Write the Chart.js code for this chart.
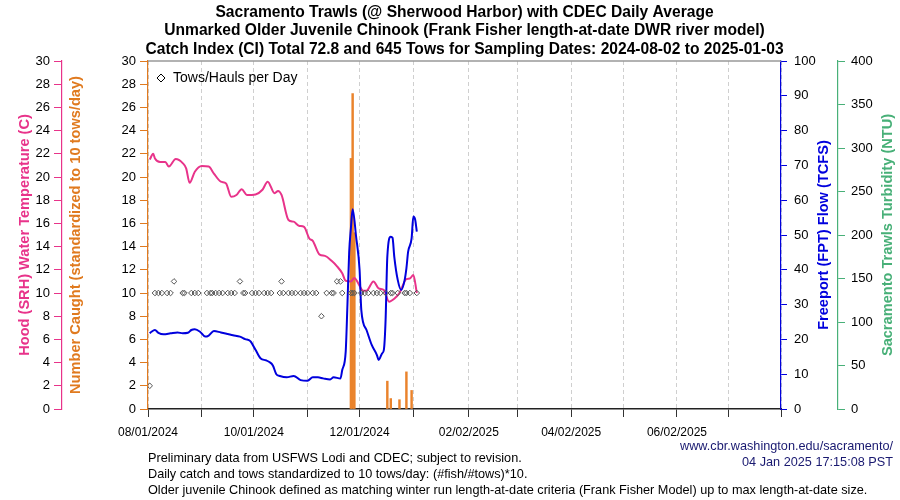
<!DOCTYPE html>
<html>
<head>
<meta charset="utf-8">
<script src="https://cdn.jsdelivr.net/npm/chart.js@4.4.1/dist/chart.umd.min.js"></script>
<style>
  html, body { margin: 0; padding: 0; background: #fff; }
</style>
</head>
<body>
<canvas id="chart" width="900" height="500"></canvas>
<script>
// days counted from 08/01/2024
const tickDays = [0, 31, 61, 92, 122, 153, 185, 213, 244, 274, 305, 335, 365];
const tickLabels = ["08/01/2024", "", "10/01/2024", "", "12/01/2024", "", "02/02/2025", "", "04/02/2025", "", "06/02/2025", "", ""];

// Hood (SRH) water temperature, C
const tempDays = [1, 3, 4, 7, 10, 12, 16, 20, 22, 24, 27, 31, 35, 38, 42, 45, 48, 51, 54, 57, 62, 66, 69, 73, 75, 77, 81, 84, 87, 90, 93, 95, 99, 102, 106, 109, 112, 114, 117, 119, 121, 124, 126, 130, 133, 136, 139, 142, 145, 149, 151, 153, 155];
const tempVals = [21.5, 22.0, 21.6, 21.3, 21.3, 20.9, 21.55, 21.2, 20.75, 19.5, 20.45, 20.95, 20.9, 20.3, 19.6, 19.45, 18.3, 18.45, 18.95, 18.45, 18.5, 18.9, 19.6, 18.6, 18.8, 18.45, 16.3, 16.15, 15.8, 15.7, 14.7, 14.5, 13.3, 13.2, 12.75, 12.3, 11.7, 11.05, 11.0, 11.3, 10.9, 10.2, 10.2, 11.0, 10.4, 10.25, 9.25, 9.5, 10.0, 11.2, 11.25, 11.55, 10.0];

// Freeport (FPT) flow, TCFS
const flowDays = [1, 2, 4, 6, 9, 13, 17, 20, 23, 25, 27, 30, 33, 35, 38, 42, 46, 49, 53, 56, 59, 62, 65, 68, 70, 72, 74, 76, 80, 84, 88, 92, 95, 98, 101, 105, 107, 111, 112, 114, 115, 116, 117, 118, 120, 122, 123, 126, 129, 132, 133, 135, 136, 137, 138, 140, 141, 142, 144, 146, 148, 149, 150, 152, 153, 154, 155];
const flowVals = [21.75, 22.2, 22.7, 21.9, 21.5, 21.75, 22.0, 21.75, 21.9, 22.7, 22.9, 22.2, 20.8, 21.1, 22.4, 22.0, 21.55, 21.2, 20.8, 20.1, 19.5, 17, 14.5, 14, 13.5, 12.5, 10, 9.5, 9.1, 9.5, 8.3, 8.1, 9.1, 9.1, 8.8, 8.5, 9.1, 8.8, 11.2, 16.5, 30, 45, 52, 57.4, 49.5, 40, 28.4, 22.7, 18.4, 15.5, 14.1, 16, 17, 25.6, 43.8, 49.5, 49.2, 43.8, 37.1, 34.2, 37.1, 40.4, 45.2, 49, 55.3, 54.5, 51];

// number caught (standardized to 10 tows/day)
const catchDays = [117, 118, 119, 138, 140, 145, 149, 152];
const catchVals = [21.6, 27.2, 15.2, 2.4, 0.9, 0.8, 3.2, 1.6];

// tows/hauls per day
const towDays = [1, 4, 6, 8, 11, 13, 15, 20, 21, 25, 27, 29, 34, 36, 37, 39, 41, 43, 46, 48, 50, 53, 55, 56, 60, 62, 64, 67, 69, 71, 76, 77, 78, 81, 83, 85, 88, 90, 92, 95, 97, 100, 103, 106, 107, 109, 111, 112, 117, 118, 119, 123, 125, 127, 130, 132, 134, 137, 140, 141, 144, 148, 149, 151, 155];
const towVals = [2, 10, 10, 10, 10, 10, 11, 10, 10, 10, 10, 10, 10, 10, 10, 10, 10, 10, 10, 10, 10, 11, 10, 10, 10, 10, 10, 10, 10, 10, 10, 11, 10, 10, 10, 10, 10, 10, 10, 10, 10, 8, 10, 10, 10, 11, 11, 10, 10, 10, 10, 10, 10, 10, 10, 10, 10, 10, 10, 10, 10, 10, 10, 10, 10];

const PINK = "#e8338a";
const ORANGE = "#e07a1f";
const BAR = "#ea832c";
const BLUE = "#0000dd";
const GREEN = "#48b078";
const FONT = "'Liberation Sans', Arial, Helvetica, sans-serif";

Chart.defaults.font.family = FONT;
Chart.defaults.color = "#000";

const pts = (xs, ys) => xs.map((x, i) => ({ x: x, y: ys[i] }));

const sideAxis = (pos, weight, color, max, step, width, title, titlePad, tickLen, tickPad) => ({
    position: pos,
    weight: weight,
    min: 0,
    max: max,
    afterFit: (s) => { s.width = width; },
    ticks: { stepSize: step, color: "#000", font: { size: 13 }, padding: tickPad },
    grid: { drawOnChartArea: false, drawTicks: true, tickLength: tickLen, color: color, tickColor: color },
    border: { display: true, color: color, width: 1.2 },
    title: {
        display: !!title,
        text: title,
        color: color,
        font: { size: 14.6, weight: "bold" },
        padding: { top: titlePad, bottom: 0 },
    },
});

const decorations = {
    id: "decorations",
    afterDraw(chart) {
        const ctx = chart.ctx;
        const a = chart.chartArea;
        ctx.save();

        // top frame line
        ctx.strokeStyle = "#999";
        ctx.lineWidth = 1.5;
        ctx.beginPath();
        ctx.moveTo(a.left, a.top);
        ctx.lineTo(a.right, a.top);
        ctx.stroke();

        // title
        ctx.fillStyle = "#000";
        ctx.textAlign = "center";
        ctx.textBaseline = "middle";
        ctx.font = "bold 15.6px " + FONT;
        const cx = (a.left + a.right) / 2;
        ctx.fillText("Sacramento Trawls (@ Sherwood Harbor) with CDEC Daily Average", cx, 13);
        ctx.fillText("Unmarked Older Juvenile Chinook (Frank Fisher length-at-date DWR river model)", cx, 31);
        ctx.fillText("Catch Index (CI) Total 72.8 and 645 Tows for Sampling Dates: 2024-08-02 to 2025-01-03", cx, 50);

        // right axis titles (read bottom to top)
        const vtitle = (text, x, color) => {
            ctx.save();
            ctx.translate(x, (a.top + a.bottom) / 2);
            ctx.rotate(-Math.PI / 2);
            ctx.fillStyle = color;
            ctx.font = "bold 14.6px " + FONT;
            ctx.textAlign = "center";
            ctx.textBaseline = "middle";
            ctx.fillText(text, 0, 0);
            ctx.restore();
        };
        vtitle("Freeport (FPT) Flow (TCFS)", 824, BLUE);
        vtitle("Sacramento Trawls Turbidity (NTU)", 888, GREEN);

        // legend
        ctx.strokeStyle = "#000";
        ctx.lineWidth = 1;
        ctx.beginPath();
        ctx.moveTo(161, 74);
        ctx.lineTo(165, 78);
        ctx.lineTo(161, 82);
        ctx.lineTo(157, 78);
        ctx.closePath();
        ctx.stroke();
        ctx.fillStyle = "#000";
        ctx.textAlign = "left";
        ctx.font = "14px " + FONT;
        ctx.fillText("Tows/Hauls per Day", 173, 78);

        // footnotes
        ctx.font = "12.7px " + FONT;
        ctx.fillText("Preliminary data from USFWS Lodi and CDEC; subject to revision.", 148, 458);
        ctx.fillText("Daily catch and tows standardized to 10 tows/day: (#fish/#tows)*10.", 148, 474);
        ctx.fillText("Older juvenile Chinook defined as matching winter run length-at-date criteria (Frank Fisher Model) up to max length-at-date size.", 148, 490);
        ctx.textAlign = "right";
        ctx.fillStyle = "#191970";
        ctx.fillText("www.cbr.washington.edu/sacramento/", 893, 446);
        ctx.fillText("04 Jan 2025 17:15:08 PST", 893, 462);
        ctx.restore();
    },
};

new Chart(document.getElementById("chart").getContext("2d"), {
    type: "line",
    data: {
        datasets: [
            {
                label: "Tows/Hauls per Day",
                data: pts(towDays, towVals),
                yAxisID: "yC",
                showLine: false,
                pointStyle: "rectRot",
                pointRadius: 2.8,
                pointBorderWidth: 1,
                pointBorderColor: "#555",
                pointBackgroundColor: "rgba(255,255,255,0)",
                order: 0,
            },
            {
                label: "Flow",
                data: pts(flowDays, flowVals),
                yAxisID: "yF",
                borderColor: BLUE,
                borderWidth: 2,
                pointRadius: 0,
                cubicInterpolationMode: "monotone",
                order: 1,
            },
            {
                label: "Temperature",
                data: pts(tempDays, tempVals),
                yAxisID: "yT",
                borderColor: PINK,
                borderWidth: 2,
                pointRadius: 0,
                cubicInterpolationMode: "monotone",
                order: 2,
            },
            {
                type: "bar",
                label: "Number Caught",
                data: pts(catchDays, catchVals),
                yAxisID: "yC",
                backgroundColor: BAR,
                barThickness: 1.8,
                order: 3,
            },
        ],
    },
    options: {
        responsive: false,
        animation: false,
        devicePixelRatio: 1,
        layout: { padding: { top: 61, bottom: 61, left: 0, right: 0 } },
        plugins: { legend: { display: false }, tooltip: { enabled: false } },
        scales: {
            x: {
                type: "linear",
                position: "bottom",
                min: 0,
                max: 365,
                offset: false,
                afterFit: (s) => { s.height = 30; },
                afterBuildTicks: (s) => { s.ticks = tickDays.map((v) => ({ value: v })); },
                ticks: {
                    autoSkip: false,
                    maxRotation: 0,
                    minRotation: 0,
                    padding: 8,
                    font: { size: 12 },
                    color: "#000",
                    callback: (v) => {
                        const i = tickDays.indexOf(v);
                        return i >= 0 ? tickLabels[i] : "";
                    },
                },
                grid: { offset: false, color: "#cfcfcf", lineWidth: 1, tickLength: 8, tickColor: "#333", tickBorderDash: [] },
                border: { display: true, color: "#222", width: 1.5, dash: [4, 3] },
            },
            yT: sideAxis("left", 2, PINK, 30, 2, 62, "Hood (SRH) Water Temperature (C)", 16.6, 8, 4),
            yC: sideAxis("left", 1, ORANGE, 30, 2, 86, "Number Caught (standardized to 10 tows/day)", 5.6, 8, 4),
            yF: sideAxis("right", 1, BLUE, 100, 10, 57, "", 0, 6, 7),
            yN: sideAxis("right", 2, GREEN, 400, 50, 62, "", 0, 7, 6),
        },
    },
    plugins: [decorations],
});
</script>
</body>
</html>
